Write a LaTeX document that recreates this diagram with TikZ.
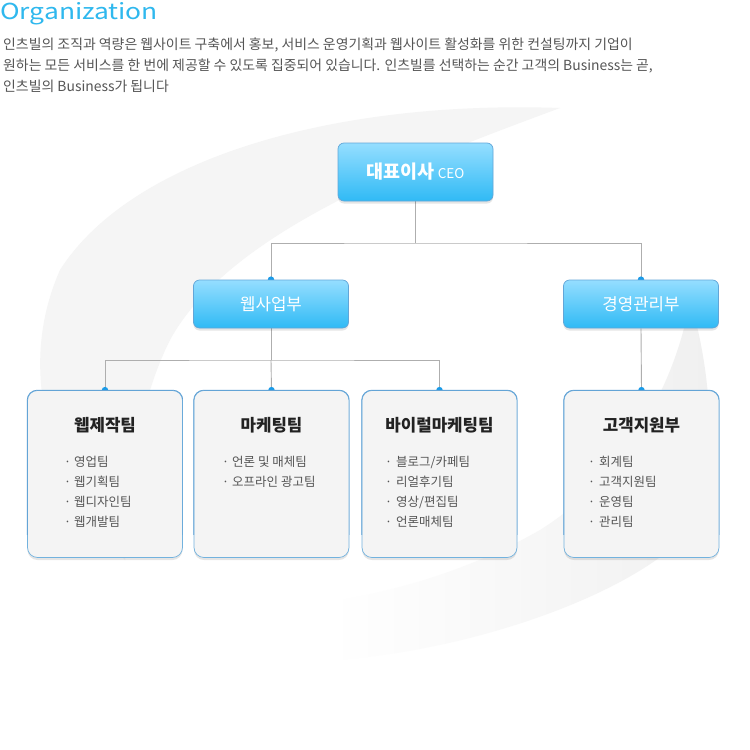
\documentclass[tikz,border=0pt]{standalone}
\usepackage{fontspec}
\setmainfont{Noto Sans CJK KR}
\newfontfamily\titlefont[FakeStretch=1.2]{Noto Sans CJK KR}
\usetikzlibrary{shadows}
\definecolor{titlecyan}{HTML}{2FB8EE}
\definecolor{bodygray}{HTML}{555555}
\definecolor{bluetop}{HTML}{95DEFF}
\definecolor{bluebot}{HTML}{30BAF5}
\definecolor{boxedge}{HTML}{62A6D8}
\definecolor{teamedge}{HTML}{72B2DE}
\definecolor{teamedgetop}{HTML}{5C9ED3}
\definecolor{teamfill}{HTML}{F4F4F4}
\definecolor{conncol}{HTML}{AEAEAE}
\definecolor{dotcol}{HTML}{1A9BE8}
\definecolor{titleblack}{HTML}{222222}
\definecolor{itemgray}{HTML}{555555}
\pgfdeclarelayer{back}
\pgfdeclarelayer{decor}
\pgfsetlayers{back,decor,main}
\tikzset{
  softshadow/.style={drop shadow={shadow xshift=0pt, shadow yshift=-2.5pt, opacity=0.10, fill=black}},
  bluebox/.style={rectangle, rounded corners=6pt, draw=boxedge, line width=0.7pt,
    top color=bluetop, bottom color=bluebot, minimum width=155pt, text=white, softshadow},
  teambox/.style={rectangle, rounded corners=10pt, draw=teamedge, line width=0.7pt,
    fill=teamfill, minimum width=155pt, minimum height=167pt, softshadow},
  conn/.style={draw=conncol, line width=0.9pt},
  dotc/.style={circle, fill=dotcol, inner sep=0pt, minimum size=6.5pt},
  teamtitle/.style={font=\fontsize{16.8}{20}\selectfont\bfseries, text=titleblack, inner sep=0pt},
  item/.style={font=\fontsize{12.5}{15}\selectfont, text=itemgray, anchor=base west, inner sep=0pt},
  bodytext/.style={font=\fontsize{13.9}{16}\selectfont, text=bodygray, anchor=base west, inner sep=0pt},
}
\begin{document}
\begin{tikzpicture}[x=1pt,y=-1pt]
\useasboundingbox (0,0) rectangle (750,750);
\begin{pgfonlayer}{back}
  \fill[white] (0,0) rectangle (750,750);
  \fill[black!4] (125,560) .. controls (40,470) and (20,360) .. (60,270)
     .. controls (130,160) and (330,100) .. (560,108)
     .. controls (420,160) and (230,230) .. (170,340)
     .. controls (140,400) and (130,470) .. (125,560) -- cycle;
  \shade[left color=white, middle color=black!4, right color=black!6]
     (335,660) .. controls (480,650) and (640,590) .. (690,530)
     .. controls (718,480) and (714,380) .. (690,300)
     .. controls (675,390) and (620,480) .. (540,530)
     .. controls (470,570) and (400,590) .. (330,602) -- cycle;
\end{pgfonlayer}

% header text
\node[anchor=base west, inner sep=0pt, text=titlecyan, font=\titlefont\fontsize{22}{26}\selectfont] (title) at (0,19) {Organization};
\node[bodytext] (l1) at (3,49) {인츠빌의 조직과 역량은 웹사이트 구축에서 홍보, 서비스 운영기획과 웹사이트 활성화를 위한 컨설팅까지 기업이};
\node[bodytext] (l2) at (3,70) {원하는 모든 서비스를 한 번에 제공할 수 있도록 집중되어 있습니다. 인츠빌를 선택하는 순간 고객의 Business는 곧,};
\node[bodytext] (l3) at (3,91) {인츠빌의 Business가 됩니다};

% boxes
\node[bluebox, minimum height=58pt, font=\fontsize{18.5}{22}\selectfont\bfseries] (ceo) at (415.5,172)
   {대표이사\,{\fontsize{13.5}{16}\mdseries\selectfont CEO}};
\node[bluebox, minimum height=48pt, font=\fontsize{16.8}{20}\selectfont] (web) at (271,304) {웹사업부};
\node[bluebox, minimum height=48pt, font=\fontsize{16.8}{20}\selectfont] (mgmt) at (641,304) {경영관리부};

\node[teambox] (t1) at (105,474) {};
\node[teambox] (t2) at (271.5,474) {};
\node[teambox] (t3) at (439.5,474) {};
\node[teambox] (t4) at (641.5,474) {};

% darker upper part of the team box borders
\foreach \t in {t1,t2,t3,t4}{
  \begin{scope}
    \clip (\t.north west) ++(-2,-2) rectangle ([yshift=-60pt]\t.east);
    \draw[teamedgetop, line width=0.7pt, rounded corners=10pt] (\t.north west) rectangle (\t.south east);
  \end{scope}
}

\node[teamtitle] (h1) at (105,425) {웹제작팀};
\node[teamtitle] (h2) at (271.5,425) {마케팅팀};
\node[teamtitle] (h3) at (439.5,425) {바이럴마케팅팀};
\node[teamtitle] (h4) at (641.5,425) {고객지원부};

% items
\foreach \n/\txt [count=\i] in {a/{영업팀}, b/{웹기획팀}, c/{웹디자인팀}, d/{웹개발팀}}{
  \node[item] (p1\n) at (64,466+20.3*\i-20.3) {·};
  \node[item] (i1\n) at (74,466+20.3*\i-20.3) {\txt};
}
\foreach \n/\txt [count=\i] in {a/{언론 및 매체팀}, b/{오프라인 광고팀}}{
  \node[item] (p2\n) at (222,466+20.3*\i-20.3) {·};
  \node[item] (i2\n) at (232,466+20.3*\i-20.3) {\txt};
}
\foreach \n/\txt [count=\i] in {a/{블로그/카페팀}, b/{리얼후기팀}, c/{영상/편집팀}, d/{언론매체팀}}{
  \node[item] (p3\n) at (385,466+20.3*\i-20.3) {·};
  \node[item] (i3\n) at (396,466+20.3*\i-20.3) {\txt};
}
\foreach \n/\txt [count=\i] in {a/{회계팀}, b/{고객지원팀}, c/{운영팀}, d/{관리팀}}{
  \node[item] (p4\n) at (588,466+20.3*\i-20.3) {·};
  \node[item] (i4\n) at (599,466+20.3*\i-20.3) {\txt};
}

% connectors
\coordinate (j1) at (415.5,243);
\coordinate (j2) at (271,360);
\begin{pgfonlayer}{decor}
  \draw[conn] (ceo.south) -- (j1);
  \draw[conn] (web.north) |- (j1) -| (mgmt.north);
  \draw[conn] (web.south) -- (j2);
  \draw[conn] (t1.north) |- (j2) -| (t3.north);
  \draw[conn] (j2) -- (t2.north);
  \draw[conn] (mgmt.south) -- (t4.north);
  \node[dotc] (dw) at (web.north) {};
  \node[dotc] (dm) at (mgmt.north) {};
  \node[dotc] (d1) at (t1.north) {};
  \node[dotc] (d2) at (t2.north) {};
  \node[dotc] (d3) at (t3.north) {};
  \node[dotc] (d4) at (t4.north) {};
\end{pgfonlayer}
\end{tikzpicture}
\end{document}
